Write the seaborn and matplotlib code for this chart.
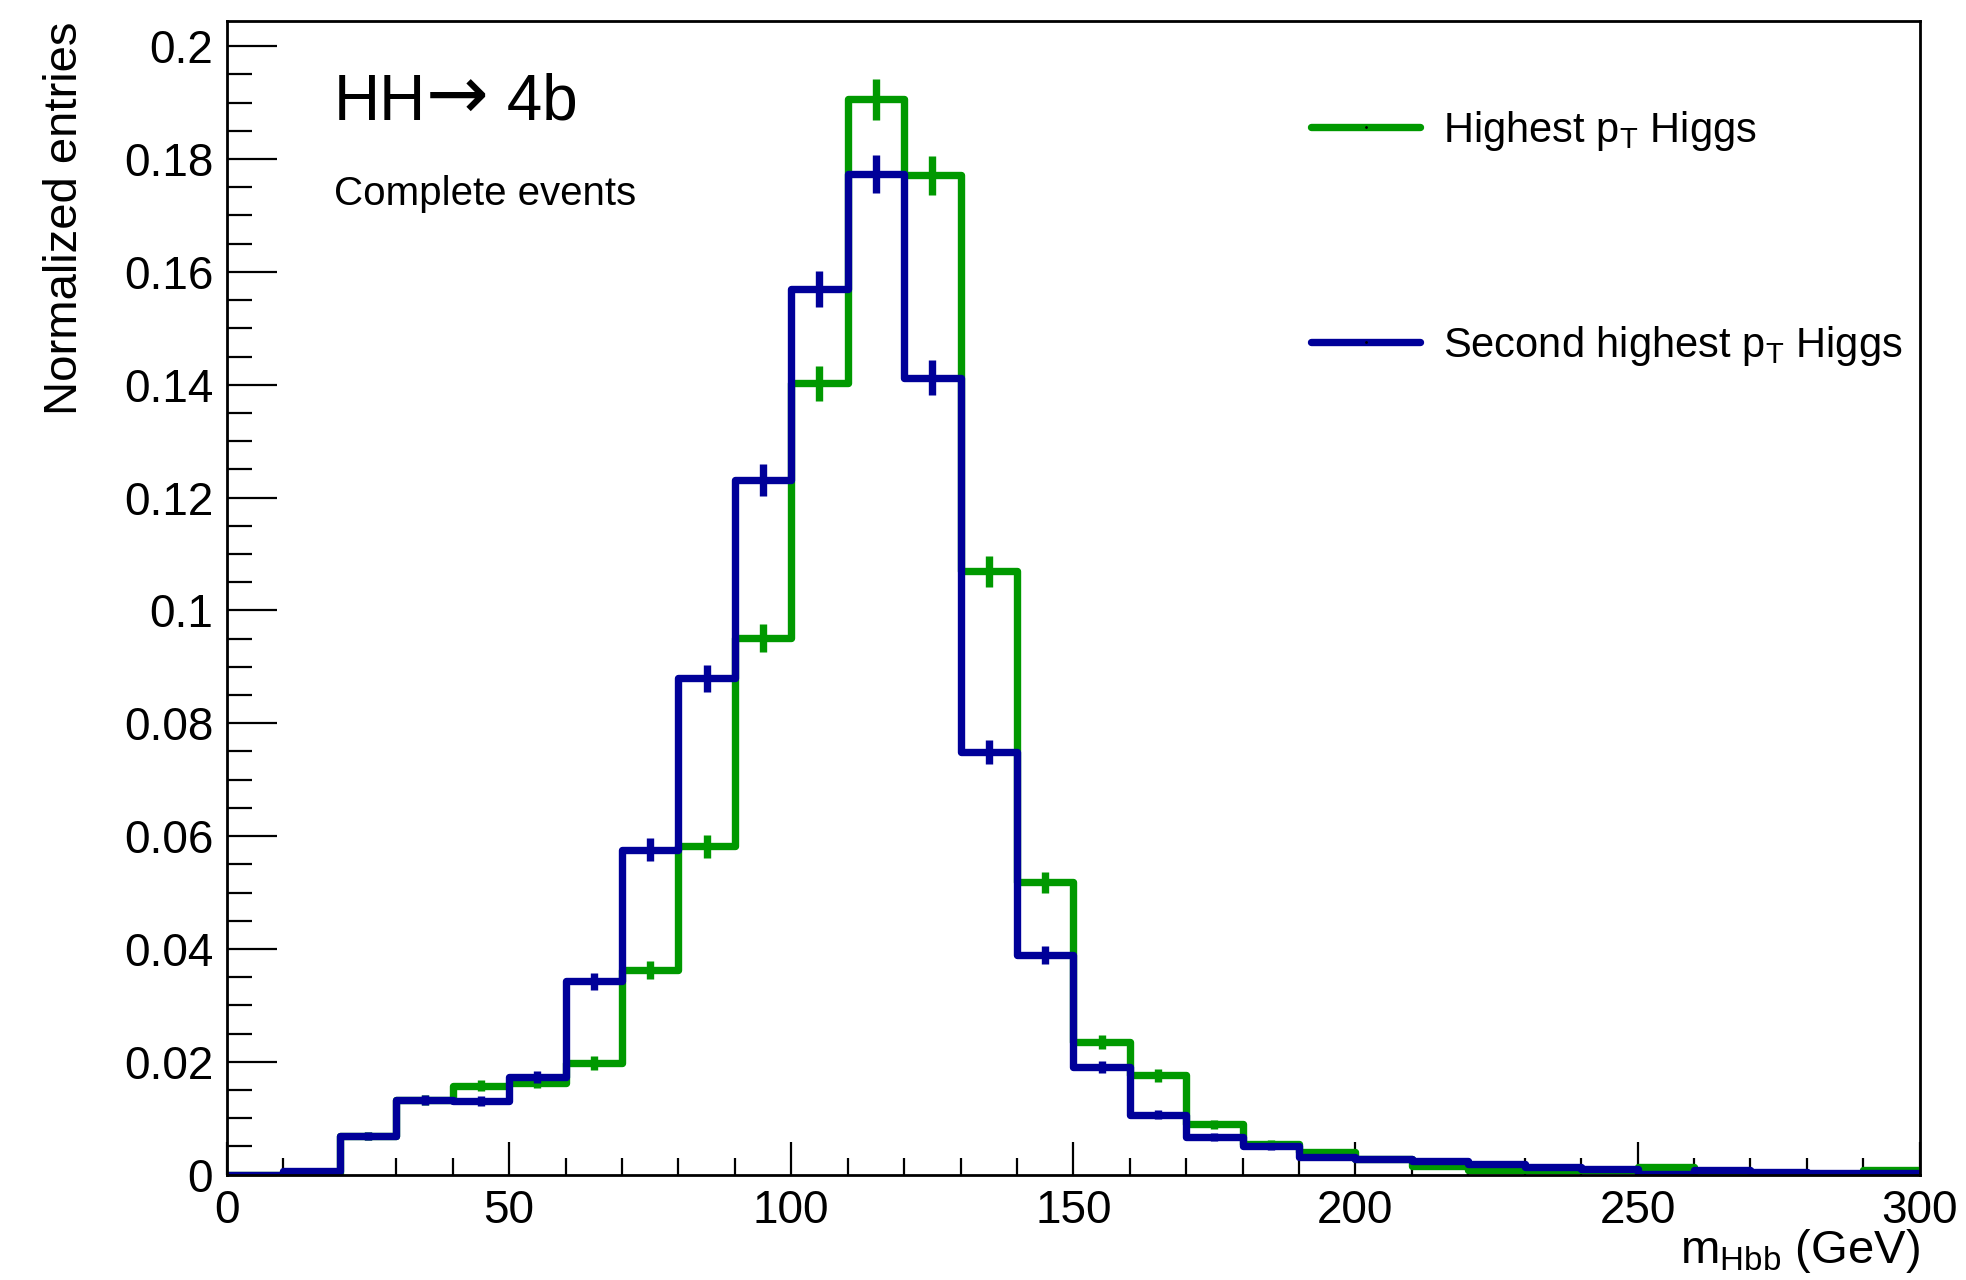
import numpy as np
import pandas as pd
import matplotlib
matplotlib.use("Agg")
import matplotlib.pyplot as plt
from matplotlib.lines import Line2D
from matplotlib.ticker import MultipleLocator, FuncFormatter
from matplotlib.offsetbox import TextArea, HPacker, AnchoredOffsetbox
import seaborn as sns

# ----------------------------- data ------------------------------------
BIN_EDGES = list(range(0, 310, 10))          # m_Hbb bins, GeV
BIN_CENTERS = [e + 5 for e in BIN_EDGES[:-1]]

highest_pt = [0.0000, 0.0003, 0.0069, 0.0132, 0.0158, 0.0163, 0.0198, 0.0362, 0.0582, 0.0951,
              0.1403, 0.1906, 0.1771, 0.1069, 0.0518, 0.0235, 0.0176, 0.0089, 0.0055, 0.0041,
              0.0028, 0.0015, 0.0009, 0.0008, 0.0009, 0.0014, 0.0005, 0.0001, 0.0000, 0.0008]
highest_err = [0.0000, 0.0001, 0.0007, 0.0009, 0.0010, 0.0010, 0.0012, 0.0016, 0.0020, 0.0025,
               0.0031, 0.0036, 0.0034, 0.0027, 0.0019, 0.0013, 0.0011, 0.0008, 0.0006, 0.0005,
               0.0004, 0.0003, 0.0002, 0.0002, 0.0002, 0.0003, 0.0002, 0.0001, 0.0000, 0.0002]

second_pt = [0.0000, 0.0006, 0.0069, 0.0132, 0.0130, 0.0173, 0.0343, 0.0576, 0.0880, 0.1231,
             0.1570, 0.1773, 0.1412, 0.0749, 0.0389, 0.0191, 0.0106, 0.0066, 0.0050, 0.0031,
             0.0027, 0.0025, 0.0019, 0.0014, 0.0010, 0.0002, 0.0008, 0.0005, 0.0003, 0.0003]
second_err = [0.0000, 0.0002, 0.0007, 0.0009, 0.0009, 0.0011, 0.0015, 0.0020, 0.0024, 0.0029,
              0.0032, 0.0034, 0.0031, 0.0022, 0.0016, 0.0011, 0.0008, 0.0007, 0.0006, 0.0005,
              0.0004, 0.0004, 0.0004, 0.0003, 0.0003, 0.0001, 0.0002, 0.0002, 0.0001, 0.0001]

LABELS = ["Highest p$_{T}$ Higgs", "Second highest p$_{T}$ Higgs"]
COLORS = ["#009900", "#000099"]

# ----------------------------- style -----------------------------------
sns.set_style("ticks")
plt.rcParams["font.family"] = ["Liberation Sans", "DejaVu Sans"]
plt.rcParams["mathtext.fontset"] = "custom"
plt.rcParams["mathtext.rm"] = "Liberation Sans"
plt.rcParams["mathtext.it"] = "Liberation Sans"
plt.rcParams["mathtext.default"] = "regular"
for key in ["text.color", "axes.labelcolor", "xtick.color", "ytick.color", "axes.edgecolor"]:
    plt.rcParams[key] = "black"

LW = 5.3

fig = plt.figure(figsize=(19.66, 12.80), dpi=100)
ax = fig.add_axes([0.1155, 0.0823, 0.8609, 0.9010])

df = pd.DataFrame({
    "m": BIN_CENTERS * 2,
    "w": highest_pt + second_pt,
    "sample": [LABELS[0]] * len(BIN_CENTERS) + [LABELS[1]] * len(BIN_CENTERS),
})

# green first, blue drawn on top
for lab, col, err in zip(LABELS, COLORS, [highest_err, second_err]):
    sub = df[df["sample"] == lab]
    sns.histplot(data=sub, x="m", weights="w", bins=BIN_EDGES, element="step",
                 fill=False, color=col, linewidth=LW, ax=ax, legend=False)
    ax.errorbar(sub["m"], sub["w"], yerr=err, fmt="none", ecolor=col,
                elinewidth=LW, capsize=0)

ax.set_xlim(0, 300)
ax.set_ylim(0, 0.2044)

# ROOT-like frame and ticks
for s in ax.spines.values():
    s.set_linewidth(2.0)
    s.set_color("black")
ax.xaxis.set_major_locator(MultipleLocator(50))
ax.xaxis.set_minor_locator(MultipleLocator(10))
ax.yaxis.set_major_locator(MultipleLocator(0.02))
ax.yaxis.set_minor_locator(MultipleLocator(0.005))
ax.yaxis.set_major_formatter(FuncFormatter(lambda v, p: f"{v:g}"))
ax.xaxis.set_major_formatter(FuncFormatter(lambda v, p: f"{v:g}"))
ax.tick_params(axis="x", which="major", direction="in", length=24, width=1.6,
               labelsize=33, pad=10, colors="black")
ax.tick_params(axis="x", which="minor", direction="in", length=12, width=1.6, colors="black")
ax.tick_params(axis="y", which="major", direction="in", length=36, width=1.6,
               labelsize=33, pad=10, colors="black")
ax.tick_params(axis="y", which="minor", direction="in", length=18, width=1.6, colors="black")

ax.set_xlabel("m$_{Hbb}$ (GeV)", fontsize=34, loc="right", color="black")
ax.xaxis.set_label_coords(1.0, -0.045)
ax.xaxis.label.set_va("top")
ax.set_ylabel("Normalized entries", fontsize=34, loc="top", color="black")
ax.yaxis.set_label_coords(-0.083, 1.0)

# "HH-> 4b": arrow taken from DejaVu Sans (longer than the Liberation one)
parts = [
    TextArea("HH", textprops=dict(fontsize=46, color="black", family="Liberation Sans")),
    TextArea("\u2192", textprops=dict(fontsize=54, color="black", family="DejaVu Sans")),
    TextArea(" 4b", textprops=dict(fontsize=46, color="black", family="Liberation Sans")),
]
title_box = HPacker(children=parts, align="baseline", pad=0, sep=0)
ax.add_artist(AnchoredOffsetbox(loc="lower left", child=title_box, pad=0, borderpad=0,
                                frameon=False, bbox_to_anchor=(0.063, 0.901),
                                bbox_transform=ax.transAxes))
ax.text(0.063, 0.841, "Complete events", transform=ax.transAxes, fontsize=29,
        ha="left", va="baseline", color="black")

handles = [Line2D([0], [0], color=c, linewidth=LW, marker=".", markersize=2,
                  markerfacecolor="black", markeredgecolor="black") for c in COLORS]
leg = ax.legend(handles, LABELS, loc="center left", bbox_to_anchor=(0.6407, 0.812),
                frameon=False, fontsize=30, handlelength=2.6, handletextpad=0.55,
                labelspacing=4.1, borderpad=0, borderaxespad=0)
for t in leg.get_texts():
    t.set_color("black")

fig.savefig("out.png", dpi=100)
